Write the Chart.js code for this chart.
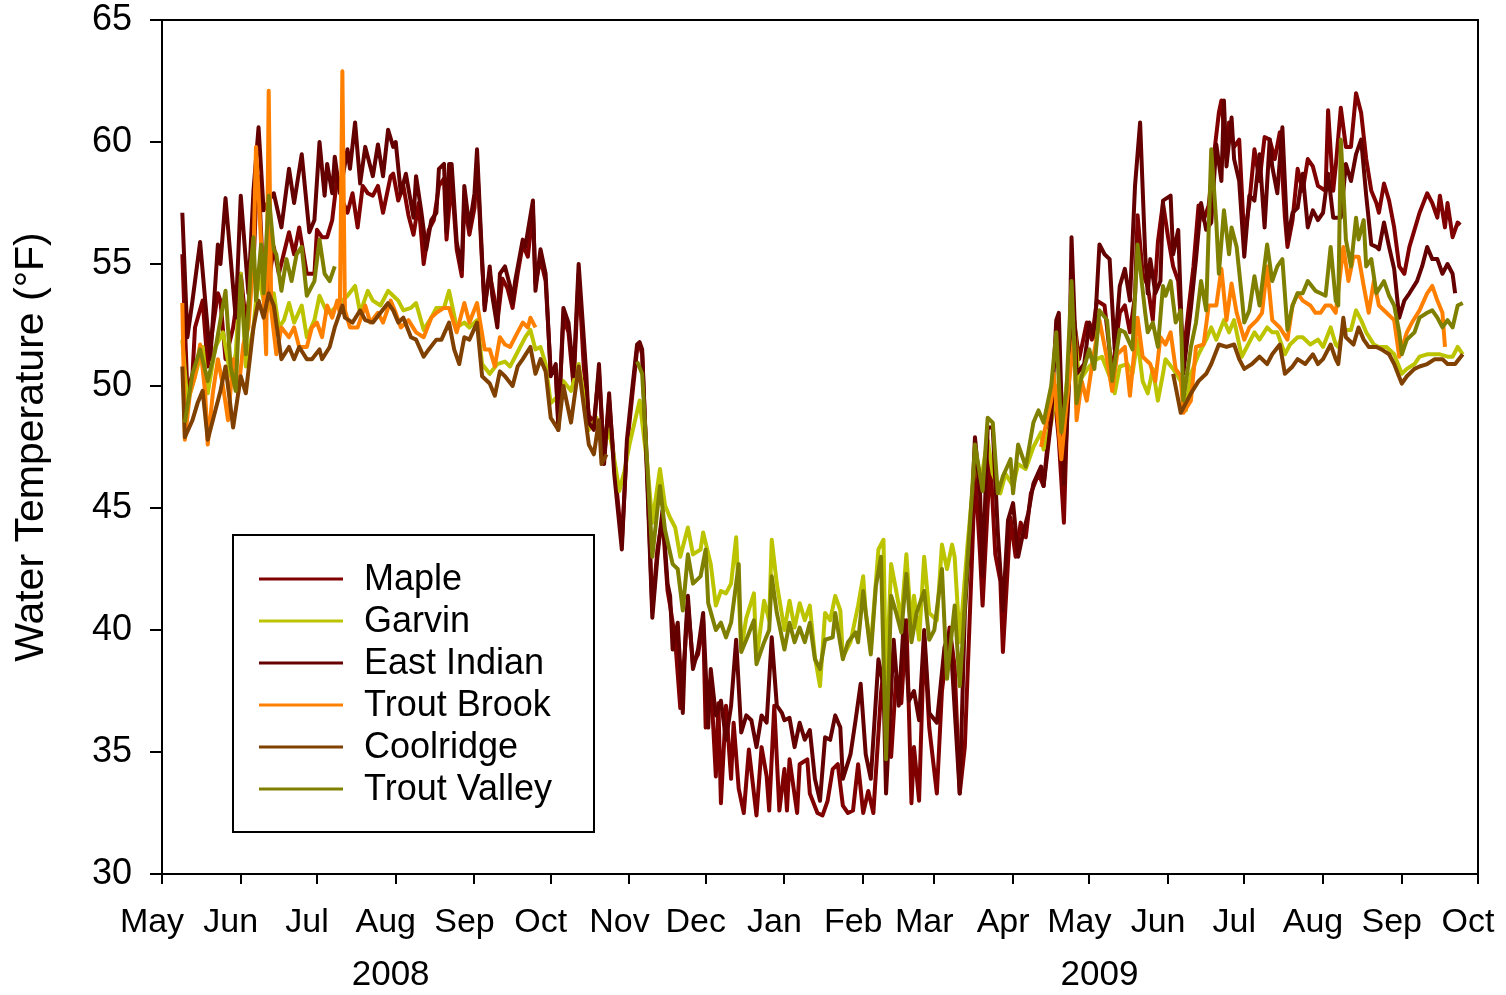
<!DOCTYPE html>
<html>
<head>
<meta charset="utf-8">
<script src="https://cdn.jsdelivr.net/npm/chart.js@4.4.1/dist/chart.umd.min.js"></script>
<style>
  html, body { margin: 0; padding: 0; background: #ffffff; }
  canvas { display: block; }
</style>
</head>
<body>
<canvas id="chart" width="1506" height="995"></canvas>
<script>
// Daily stream temperatures, May 2008 - Sep 2009.
// Each point is [day since 1 May 2008, temperature in °F]; null marks a logger gap.

const START = Date.UTC(2008, 4, 1);
const DAY_MS = 86400000;
const dayOf = (y, m, d) => (Date.UTC(y, m - 1, d) - START) / DAY_MS;

const monthLabels = ['May','Jun','Jul','Aug','Sep','Oct','Nov','Dec','Jan','Feb','Mar','Apr','May','Jun','Jul','Aug','Sep','Oct'];
const monthTicks = monthLabels.map((_, i) => dayOf(2008, 5 + i, 1));
const yearLabels = ['2008', '2009'];
const yearLabelDays = [dayOf(2008, 7, 30), dayOf(2009, 5, 5)];

const seriesNames = ['Maple', 'Garvin', 'East Indian', 'Trout Brook', 'Coolridge', 'Trout Valley'];
const seriesColors = ['#800000', '#bcc400', '#640000', '#ff8000', '#804000', '#808000'];

const maple = [
  [8,55.4],[10,49.7],[12,50.5],[13,52.4],[16,53.5],[18,50.8],[20,52.4],[22,53.8],[23,53.5],[25,51.1],
  [28,52.4],[31,54.6],[33,52.6],[36,54.9],[37,57.5],[38,58.6],[40,54.0],[41,53.5],[44,55.7],[46,54.6],
  [50,56.3],[52,55.4],[54,56.5],[57,54.6],[60,54.6],[61,56.4],[63,56.1],[65,56.1],[67,56.8],[69,58.6],
  [71,57.6],[73,57.1],[75,57.9],[77,56.5],[79,58.2],[81,57.9],[83,57.8],[85,58.2],[87,57.1],[90,58.6],
  [91,58.7],[93,57.6],[95,58.2],[97,57.0],[99,56.2],[101,57.5],[103,55.0],[105,56.4],[107,56.8],[109,58.2],
  [111,58.5],[112,56.0],[114,58.5],[116,55.6],[118,54.5],[119,57.6],[121,56.2],[123,57.3],[124,59.2],[126,55.0],
  [127,53.3],[129,54.6],[131,53.5],[132,52.6],[134,54.4],[136,54.0],[138,53.2],[140,54.6],[142,55.8],[144,55.3],
  [146,57.2],[147,54.2],[149,55.2],[151,54.3],[153,50.6],[155,50.5],[156,48.5],[158,52.8],[160,52.2],[162,50.0],
  [164,54.6],[166,50.8],[168,48.8],[170,48.5],[172,50.6],[174,47.0],[176,49.4],[178,46.8],[181,43.6],[183,47.5],
  [185,49.5],[187,51.5],[188,51.7],[189,51.3],[191,46.4],[193,40.8],[195,43.3],[197,44.6],[199,41.6],[200,41.0],
  [202,39.6],[204,36.8],[206,39.4],[207,41.1],[209,38.6],[211,39.0],[213,40.4],[214,36.0],[216,38.0],[218,34.0],
  [219,37.0],[220,32.9],[222,36.9],[224,33.9],[225,36.2],[227,33.5],[229,32.5],[231,35.1],[234,32.4],[236,35.2],
  [238,34.0],[239,32.6],[241,36.9],[243,32.6],[245,34.3],[246,32.6],[247,34.7],[250,32.5],[251,34.5],[254,34.7],
  [255,33.3],[258,32.5],[260,32.4],[262,33.0],[264,34.3],[266,34.5],[268,32.8],[270,32.5],[272,32.6],[274,34.5],
  [276,32.5],[278,33.4],[280,32.5],[283,37.4],[285,39.3],[287,34.8],[289,38.1],[291,37.0],[293,40.4],[295,32.9],
  [296,35.2],[298,33.0],[300,39.7],[302,36.0],[305,33.3],[307,37.5],[310,40.1],[312,38.5],[314,33.3],[316,35.2],
  [319,43.4],[320,46.6],[322,43.1],[323,41.0],[326,47.1],[328,43.1],[330,42.0],[331,39.1],[334,44.6],[336,43.0],
  [338,44.4],[340,43.8],[342,45.6],[345,46.4],[347,45.9],[349,48.1],[351,50.0],[353,47.8],[355,44.4],[357,51.3],
  [359,52.7],[361,51.1],[364,52.6],[366,51.9],[368,53.5],[371,53.3],[374,50.5],[377,53.0],[379,53.3],[381,52.2],
  [383,53.7],[384,57.0],[386,54.6],[388,54.1],[390,52.7],[392,55.9],[394,57.5],[396,56.1],[398,54.9],[400,54.3],
  [402,51.2],[404,53.1],[406,54.9],[408,57.4],[410,56.8],[412,57.4],[414,59.4],[416,61.2],[417,61.7],[419,59.4],
  [420,60.8],[422,59.8],[424,60.1],[426,56.0],[428,57.5],[430,59.7],[432,58.4],[434,60.2],[436,60.1],[438,59.3],
  [440,60.4],[442,56.9],[443,55.7],[445,56.8],[447,58.9],[449,58.0],[451,59.3],[453,59.0],[455,58.2],[458,58.0],
  [459,61.3],[461,58.0],[462,59.0],[464,61.4],[466,59.8],[468,59.8],[470,62.0],[472,61.2],[474,59.3],[476,58.0],
  [478,57.5],[479,57.1],[481,58.3],[483,57.6],[485,56.5],[487,54.9],[489,54.6],[491,55.7],[493,56.4],[495,57.1],
  [498,57.9],[500,57.5],[502,56.9],[503,57.8],[505,56.5],[506,57.5],[508,56.1],[510,56.7],[511,56.6]
];

const garvin = [
  [8,51.9],[10,49.3],[13,50.4],[16,51.6],[18,49.7],[21,51.6],[24,52.2],[27,50.4],[29,51.3],[31,54.6],
  [33,50.8],[36,52.4],[38,54.5],[41,53.0],[44,53.8],[46,52.4],[48,52.7],[50,53.4],[52,52.6],[55,53.3],
  [57,52.0],[60,52.7],[62,53.7],[65,53.0],[67,53.1],[71,53.5],[73,53.7],[76,54.1],[78,53.0],[81,53.9],
  [83,53.5],[86,53.3],[89,53.9],[91,53.7],[93,53.5],[95,53.1],[98,53.2],[100,53.4],[103,52.3],[106,52.8],
  [108,53.2],[111,53.2],[113,53.9],[116,52.4],[119,52.6],[121,52.4],[124,52.7],[126,50.9],[129,50.5],[132,50.9],
  [135,51.0],[137,50.8],[139,51.2],[141,51.6],[143,52.0],[145,52.3],[147,51.5],[149,51.6],[151,50.9],[153,49.3],
  [156,49.6],[158,50.2],[161,49.8],[164,50.9],[166,49.6],[168,48.2],[171,48.7],[174,47.5],[176,48.2],[178,47.0],
  [180,45.7],[182,46.5],[184,47.6],[186,48.5],[188,49.4],[191,46.8],[193,44.4],[196,46.6],[198,45.1],[200,44.6],
  [202,44.2],[204,43.0],[207,44.2],[209,43.1],[212,43.3],[213,44.0],[216,42.7],[218,41.0],[220,41.6],[222,41.5],
  [224,41.9],[226,43.8],[228,39.2],[230,40.5],[233,41.5],[234,38.8],[237,41.2],[239,40.4],[240,43.7],[242,41.9],
  [245,40.0],[247,41.2],[249,40.1],[251,41.1],[253,40.4],[255,41.0],[257,38.9],[259,37.7],[261,40.7],[263,40.4],
  [265,41.4],[267,40.8],[268,38.9],[271,39.5],[274,41.0],[276,42.2],[277,40.7],[279,39.3],[282,43.3],[284,43.7],
  [285,37.5],[287,42.7],[289,41.6],[291,40.4],[293,43.1],[295,40.0],[296,41.4],[298,39.6],[300,43.0],[302,40.7],
  [305,40.4],[307,43.5],[309,42.5],[311,43.5],[312,43.0],[314,39.5],[317,43.4],[319,45.7],[320,47.2],[322,45.9],
  [325,47.8],[327,46.4],[330,45.6],[332,46.4],[335,45.9],[337,46.8],[340,46.6],[343,47.5],[346,48.1],[347,47.4],
  [350,48.5],[352,50.0],[354,48.1],[356,50.0],[359,52.7],[361,50.2],[363,50.5],[365,50.8],[368,51.1],[370,51.2],
  [373,50.4],[375,49.7],[377,50.8],[380,50.9],[382,50.5],[384,51.9],[386,50.2],[388,49.7],[390,50.7],[392,49.4],
  [394,50.5],[395,51.1],[398,50.7],[401,50.2],[403,49.0],[405,50.5],[408,51.3],[411,51.9],[413,52.4],[415,51.9],
  [418,52.7],[420,52.2],[422,52.7],[425,51.2],[427,51.6],[430,52.2],[432,51.9],[435,52.4],[437,52.2],[439,52.2],
  [442,51.3],[444,51.7],[447,52.0],[449,52.0],[452,51.7],[455,51.9],[457,51.6],[460,52.4],[462,51.7],[463,51.6],
  [465,52.3],[468,52.3],[470,53.1],[472,52.7],[474,52.2],[477,51.7],[479,51.6],[482,51.6],[485,51.3],[488,50.5],
  [490,50.7],[493,50.9],[495,51.2],[498,51.3],[500,51.3],[503,51.3],[506,51.2],[508,51.2],[510,51.6],[512,51.3]
];

const eastIndian = [
  [8,57.1],[10,52.0],[12,53.5],[15,55.9],[19,51.1],[22,55.8],[23,55.0],[25,57.7],[29,52.8],[31,57.8],
  [34,53.8],[36,58.0],[38,60.6],[40,57.2],[42,57.6],[44,57.9],[47,56.5],[50,58.9],[52,57.5],[55,59.5],
  [58,56.3],[60,56.8],[62,60.0],[64,57.8],[65,59.1],[67,57.9],[68,59.4],[70,57.9],[73,59.7],[74,58.9],
  [76,60.8],[78,58.3],[80,59.8],[83,58.6],[85,59.9],[87,58.6],[89,60.5],[91,59.8],[92,60.0],[94,57.9],
  [96,58.7],[99,56.9],[100,58.6],[102,57.2],[104,55.6],[106,56.8],[108,57.1],[109,58.9],[111,59.1],[112,56.3],
  [113,59.1],[114,59.1],[116,55.9],[118,54.8],[119,58.2],[121,56.5],[123,57.9],[124,59.7],[126,55.2],[127,53.1],
  [129,54.9],[130,53.7],[132,52.4],[133,54.6],[135,54.9],[137,54.1],[138,53.4],[139,54.3],[142,56.0],[143,55.7],
  [146,57.6],[147,53.9],[149,55.6],[151,54.6],[153,50.4],[155,50.9],[156,48.2],[158,53.2],[160,52.6],[162,50.4],
  [164,55.0],[167,50.5],[168,48.5],[170,48.2],[172,50.9],[174,46.8],[176,49.7],[178,46.4],[181,43.3],[183,47.8],
  [185,49.8],[187,51.7],[188,51.8],[189,51.5],[191,46.1],[193,40.5],[195,43.0],[197,44.9],[199,41.9],[200,41.4],
  [201,39.2],[203,40.3],[205,36.6],[206,39.7],[207,41.4],[209,38.4],[211,39.2],[213,40.7],[215,36.0],[216,38.4],
  [218,36.5],[220,37.1],[222,35.5],[224,36.9],[226,39.6],[228,35.8],[230,36.5],[232,36.3],[234,35.2],[236,36.5],
  [238,36.2],[240,39.7],[242,36.9],[244,36.6],[245,36.3],[247,36.4],[249,35.2],[251,36.2],[253,35.5],[255,35.9],
  [257,33.9],[259,33.0],[261,35.6],[263,35.5],[265,36.5],[267,36.0],[268,33.9],[271,34.9],[273,36.3],[275,37.8],
  [277,34.9],[279,33.9],[282,38.8],[284,37.7],[285,33.3],[288,39.6],[290,36.9],[292,40.4],[294,37.1],[296,37.5],
  [298,36.3],[300,40.0],[302,36.6],[305,36.2],[308,39.3],[310,39.9],[311,38.5],[314,33.3],[316,40.7],[319,45.5],
  [320,47.9],[322,45.6],[323,42.2],[325,48.3],[327,48.3],[329,44.0],[331,40.8],[333,44.5],[335,45.2],[337,43.0],
  [339,44.0],[341,44.8],[343,46.0],[346,46.7],[347,45.9],[350,48.6],[352,52.7],[353,53.0],[355,46.0],[357,50.0],
  [358,56.1],[360,50.5],[363,50.9],[365,52.6],[367,52.0],[369,55.8],[371,55.4],[373,55.2],[375,51.5],[377,54.1],
  [379,54.8],[381,53.5],[383,58.2],[385,60.8],[387,55.4],[388,53.8],[389,55.2],[391,53.8],[393,54.3],[394,57.6],
  [397,57.8],[398,55.4],[400,56.4],[402,50.5],[405,53.2],[407,55.2],[409,57.5],[411,56.4],[413,56.7],[415,59.9],
  [417,58.4],[418,61.7],[419,59.0],[421,61.0],[422,59.3],[424,58.4],[426,55.3],[428,57.8],[430,57.6],[432,59.5],
  [434,56.5],[436,60.1],[437,59.0],[439,57.9],[441,60.6],[443,56.0],[445,57.1],[447,57.3],[449,58.7],[451,56.5],
  [453,57.2],[455,56.8],[457,57.1],[459,58.7],[461,56.9],[464,56.9],[466,59.1],[468,58.4],[470,59.5],[472,60.1],
  [474,57.8],[476,55.8],[478,55.7],[479,55.6],[481,56.7],[483,55.7],[485,54.8],[487,52.8],[489,53.5],[491,53.8],
  [494,54.3],[496,54.9],[498,55.7],[500,55.2],[502,55.2],[504,54.6],[506,55.0],[508,54.6],[509,53.8]
];

const troutBrook = [
  [8,53.4],[9,47.8],[11,49.7],[13,50.4],[15,51.7],[17,49.7],[18,47.6],[20,49.7],[22,51.1],[24,50.0],
  [26,48.6],[28,51.1],[30,49.7],[32,51.7],[34,52.4],[36,55.2],[37,59.8],[38,57.9],[40,53.8],[41,51.3],
  [42,62.1],[43,53.1],[45,51.3],[47,52.4],[50,52.0],[52,52.4],[54,51.6],[57,51.6],[59,52.4],[61,52.6],
  [63,52.0],[65,53.3],[67,52.8],[69,53.5],[70,53.0],[71,62.9],[72,53.1],[74,52.4],[77,52.4],[80,53.3],
  [82,52.6],[85,53.0],[87,52.6],[90,53.5],[92,53.0],[94,52.4],[97,52.7],[100,52.2],[103,52.0],[106,52.8],
  [108,53.0],[111,53.2],[113,53.2],[116,52.2],[119,53.4],[121,52.6],[124,53.4],[127,51.5],[129,51.5],[131,50.8],
  [133,52.0],[135,51.7],[137,51.6],[139,52.0],[142,52.6],[144,52.4],[145,52.8],[147,52.4],
  [200,null],
  [346,47.5],[350,49.4],[351,50.5],[354,47.0],[356,49.2],[359,52.0],[360,48.6],[362,50.2],[364,49.4],[366,50.8],
  [369,52.7],[372,51.1],[374,49.8],[376,51.3],[379,51.6],[381,49.6],[384,52.8],[386,51.2],[389,50.9],[391,50.2],
  [393,52.0],[395,51.7],[397,52.2],[399,50.7],[401,50.4],[402,48.9],[405,49.4],[407,51.6],[410,51.7],[412,53.3],
  [415,53.3],[417,54.8],[419,52.7],[421,54.2],[423,53.0],[426,51.9],[428,52.4],[431,52.7],[433,53.0],[435,54.9],
  [437,52.7],[440,52.4],[443,51.9],[445,53.3],[447,53.8],[449,53.5],[452,53.3],[454,53.0],[456,53.0],[458,53.3],
  [460,53.3],[462,53.0],[465,55.7],[467,54.3],[469,55.3],[471,55.3],[473,54.1],[475,53.0],[477,54.3],[479,53.3],
  [482,53.0],[485,52.7],[487,51.2],[490,52.2],[492,52.6],[495,53.1],[498,53.8],[500,54.1],[502,53.5],[504,53.0],
  [505,51.6]
];

const coolridge = [
  [8,50.8],[9,47.9],[12,48.6],[14,49.3],[16,49.8],[18,47.8],[21,49.0],[23,49.8],[25,50.8],[28,48.3],
  [31,50.4],[33,49.7],[36,52.4],[38,53.5],[40,52.8],[42,53.8],[44,53.3],[47,51.1],[50,51.6],[52,51.1],
  [54,51.6],[57,51.1],[59,51.1],[62,51.5],[63,51.1],[66,51.6],[68,52.4],[71,53.3],[72,52.8],[75,52.6],
  [78,53.1],[80,52.7],[83,52.6],[86,53.0],[89,53.4],[91,53.1],[93,52.6],[95,52.8],[98,52.0],[100,51.9],
  [103,51.2],[105,51.5],[108,51.9],[110,51.9],[113,52.6],[115,51.5],[117,50.9],[119,52.0],[121,51.9],[124,52.6],
  [126,50.4],[129,50.1],[131,49.6],[133,50.6],[135,50.4],[138,50.0],[140,50.8],[142,51.1],[145,51.6],[147,50.5],
  [149,51.1],[151,50.6],[153,48.7],[156,48.2],[158,50.0],[161,48.5],[164,50.8],[168,47.6],[170,47.2],[172,48.6],
  [173,46.8],[175,47.2],
  [250,null],
  [398,50.5],[401,48.9],[403,49.3],[405,49.7],[408,50.2],[411,50.5],[413,50.9],[416,51.7],[419,51.6],[422,51.7],
  [424,51.1],[426,50.7],[429,50.9],[432,51.2],[435,50.9],[437,51.3],[440,51.7],[442,50.5],[445,50.8],[447,51.1],
  [450,50.9],[453,51.3],[455,50.9],[457,51.1],[460,51.7],[462,51.1],[463,50.9],[465,52.8],[466,52.0],[469,51.7],
  [471,52.4],[473,51.9],[475,51.6],[478,51.6],[480,51.5],[483,51.3],[485,50.9],[488,50.1],[490,50.4],[493,50.7],
  [495,50.8],[498,50.9],[501,51.1],[504,51.1],[506,50.9],[509,50.9],[512,51.3]
];

const troutValley = [
  [9,48.5],[12,50.5],[15,51.5],[18,50.2],[21,51.5],[23,52.7],[25,53.9],[27,50.8],[29,49.8],[31,54.5],
  [33,51.3],[35,55.0],[36,56.1],[37,53.5],[39,55.8],[40,53.8],[42,57.8],[44,55.6],[45,55.4],[47,53.9],
  [49,55.2],[51,54.3],[53,55.4],[55,55.7],[57,53.7],[60,54.3],[62,56.0],[64,54.6],[66,54.3],[68,54.9],
  [120,null],
  [187,51.0],[189,50.5],[191,46.8],[193,43.0],[196,45.9],[198,44.1],[201,42.7],[203,42.5],[205,40.8],[207,43.1],
  [209,41.9],[212,42.2],[214,43.3],[215,41.1],[218,40.0],[220,40.3],[222,39.7],[224,40.3],[227,42.7],[228,39.1],
  [230,39.6],[233,40.4],[234,38.6],[237,39.5],[239,40.0],[240,42.2],[242,40.7],[245,39.2],[247,40.3],[249,39.5],
  [251,40.1],[253,39.5],[255,40.3],[257,38.8],[259,38.4],[261,39.6],[264,39.7],[265,40.7],[268,38.8],[270,39.5],
  [273,39.9],[274,39.5],[276,41.6],[279,39.0],[281,41.8],[283,43.0],[285,34.7],[287,41.4],[289,40.7],[291,39.9],
  [293,42.3],[295,39.5],[297,40.7],[300,41.6],[302,39.6],[304,40.0],[307,42.5],[309,38.0],[312,41.0],[314,37.7],
  [317,42.7],[319,45.9],[320,47.6],[323,45.7],[325,48.7],[327,48.5],[329,45.6],[331,46.3],[334,47.0],[335,45.6],
  [337,47.6],[340,46.7],[343,48.5],[345,49.0],[347,48.5],[350,50.0],[352,52.2],[354,48.1],[356,49.8],[358,54.3],
  [360,49.3],[362,50.4],[365,51.5],[367,50.7],[369,53.1],[372,52.7],[374,50.2],[377,52.3],[379,52.2],[382,51.5],
  [384,55.8],[387,53.0],[388,52.2],[390,52.6],[392,51.6],[394,54.1],[395,53.7],[397,54.3],[399,52.6],[401,53.1],
  [402,49.4],[405,51.6],[407,52.6],[409,54.3],[411,53.1],[413,59.7],[415,56.7],[416,54.6],[418,57.2],[420,55.4],
  [421,56.5],[423,55.7],[425,53.7],[426,52.6],[428,53.1],[430,54.5],[432,53.3],[435,55.8],[437,54.3],[439,54.9],
  [441,55.2],[443,52.3],[445,53.3],[447,53.8],[449,53.8],[451,54.3],[454,53.9],[456,53.8],[458,53.7],[460,55.7],
  [462,53.5],[463,53.3],[464,60.1],[466,56.0],[468,54.9],[470,56.9],[471,56.0],[473,56.8],[474,54.9],[476,55.2],
  [478,53.8],[481,54.3],[483,53.7],[485,53.3],[487,52.2],[488,51.3],[490,51.9],[493,52.2],[495,52.8],[498,53.0],
  [500,53.1],[502,52.8],[504,52.4],[506,52.7],[508,52.4],[510,53.3],[512,53.4]
];

const seriesData = [maple, garvin, eastIndian, troutBrook, coolridge, troutValley];

const FONT = "'Liberation Sans', Arial, Helvetica, sans-serif";

// Frame around the plotting area plus the two year captions under the month axis.
const framePlugin = {
  id: 'frame',
  afterDraw(chart) {
    const { ctx, chartArea: a, scales } = chart;
    ctx.save();
    ctx.strokeStyle = '#000';
    ctx.lineWidth = 2;
    ctx.strokeRect(a.left, a.top, a.right - a.left, a.bottom - a.top);
    ctx.fillStyle = '#000';
    ctx.font = '35px ' + FONT;
    ctx.textAlign = 'center';
    ctx.textBaseline = 'middle';
    yearLabels.forEach((t, i) => {
      ctx.fillText(t, scales.x.getPixelForValue(yearLabelDays[i]), 975);
    });
    ctx.restore();
  }
};

// Boxed legend in the lower-left of the plot.
const boxLegendPlugin = {
  id: 'boxLegend',
  afterDraw(chart) {
    const { ctx } = chart;
    const box = { x: 233, y: 535, w: 361, h: 297 };
    ctx.save();
    ctx.fillStyle = '#fff';
    ctx.fillRect(box.x, box.y, box.w, box.h);
    ctx.strokeStyle = '#000';
    ctx.lineWidth = 2;
    ctx.strokeRect(box.x, box.y, box.w, box.h);
    ctx.font = '36px ' + FONT;
    ctx.textBaseline = 'middle';
    ctx.textAlign = 'left';
    chart.data.datasets.forEach((ds, i) => {
      const y = 579 + i * 42;
      ctx.strokeStyle = ds.borderColor;
      ctx.lineWidth = 3;
      ctx.beginPath();
      ctx.moveTo(259, y);
      ctx.lineTo(343, y);
      ctx.stroke();
      ctx.fillStyle = '#000';
      ctx.fillText(ds.label, 364, y + 1);
    });
    ctx.restore();
  }
};

const datasets = seriesData.map((pts, i) => ({
  label: seriesNames[i],
  data: pts.map(([d, t]) => ({ x: d, y: t })),
  borderColor: seriesColors[i],
  backgroundColor: seriesColors[i],
  borderWidth: 4,
  pointRadius: 0,
  tension: 0,
  spanGaps: false,
  borderJoinStyle: 'round',
  order: seriesNames.length - i
}));

new Chart(document.getElementById('chart'), {
  type: 'line',
  data: { datasets },
  plugins: [framePlugin, boxLegendPlugin],
  options: {
    responsive: false,
    animation: false,
    devicePixelRatio: 1,
    events: [],
    layout: { autoPadding: false, padding: { top: 20, right: 28, left: 0, bottom: 0 } },
    plugins: { legend: { display: false }, tooltip: { enabled: false } },
    scales: {
      x: {
        type: 'linear',
        min: 0,
        max: monthTicks[monthTicks.length - 1],
        afterBuildTicks: (scale) => { scale.ticks = monthTicks.map(v => ({ value: v })); },
        afterFit: (scale) => { scale.height = 121; scale.paddingLeft = 0; scale.paddingRight = 0; },
        ticks: {
          autoSkip: false,
          maxRotation: 0,
          minRotation: 0,
          labelOffset: -10,
          padding: 18,
          color: '#000',
          font: { family: FONT, size: 34 },
          callback: (value, index) => monthLabels[index]
        },
        grid: { drawOnChartArea: false, drawTicks: true, tickLength: 10, color: '#000', lineWidth: 2 },
        border: { display: true, color: '#000', width: 2 }
      },
      y: {
        min: 30,
        max: 65,
        afterFit: (scale) => { scale.width = 162; scale.paddingTop = 0; scale.paddingBottom = 0; },
        ticks: {
          stepSize: 5,
          padding: 18,
          color: '#000',
          font: { family: FONT, size: 36 }
        },
        grid: { drawOnChartArea: false, drawTicks: true, tickLength: 12, color: '#000', lineWidth: 2 },
        border: { display: true, color: '#000', width: 2 },
        title: {
          display: true,
          text: 'Water Temperature (°F)',
          color: '#000',
          font: { family: FONT, size: 41 },
          padding: { top: 7, bottom: 0 }
        }
      }
    }
  }
});
</script>
</body>
</html>
